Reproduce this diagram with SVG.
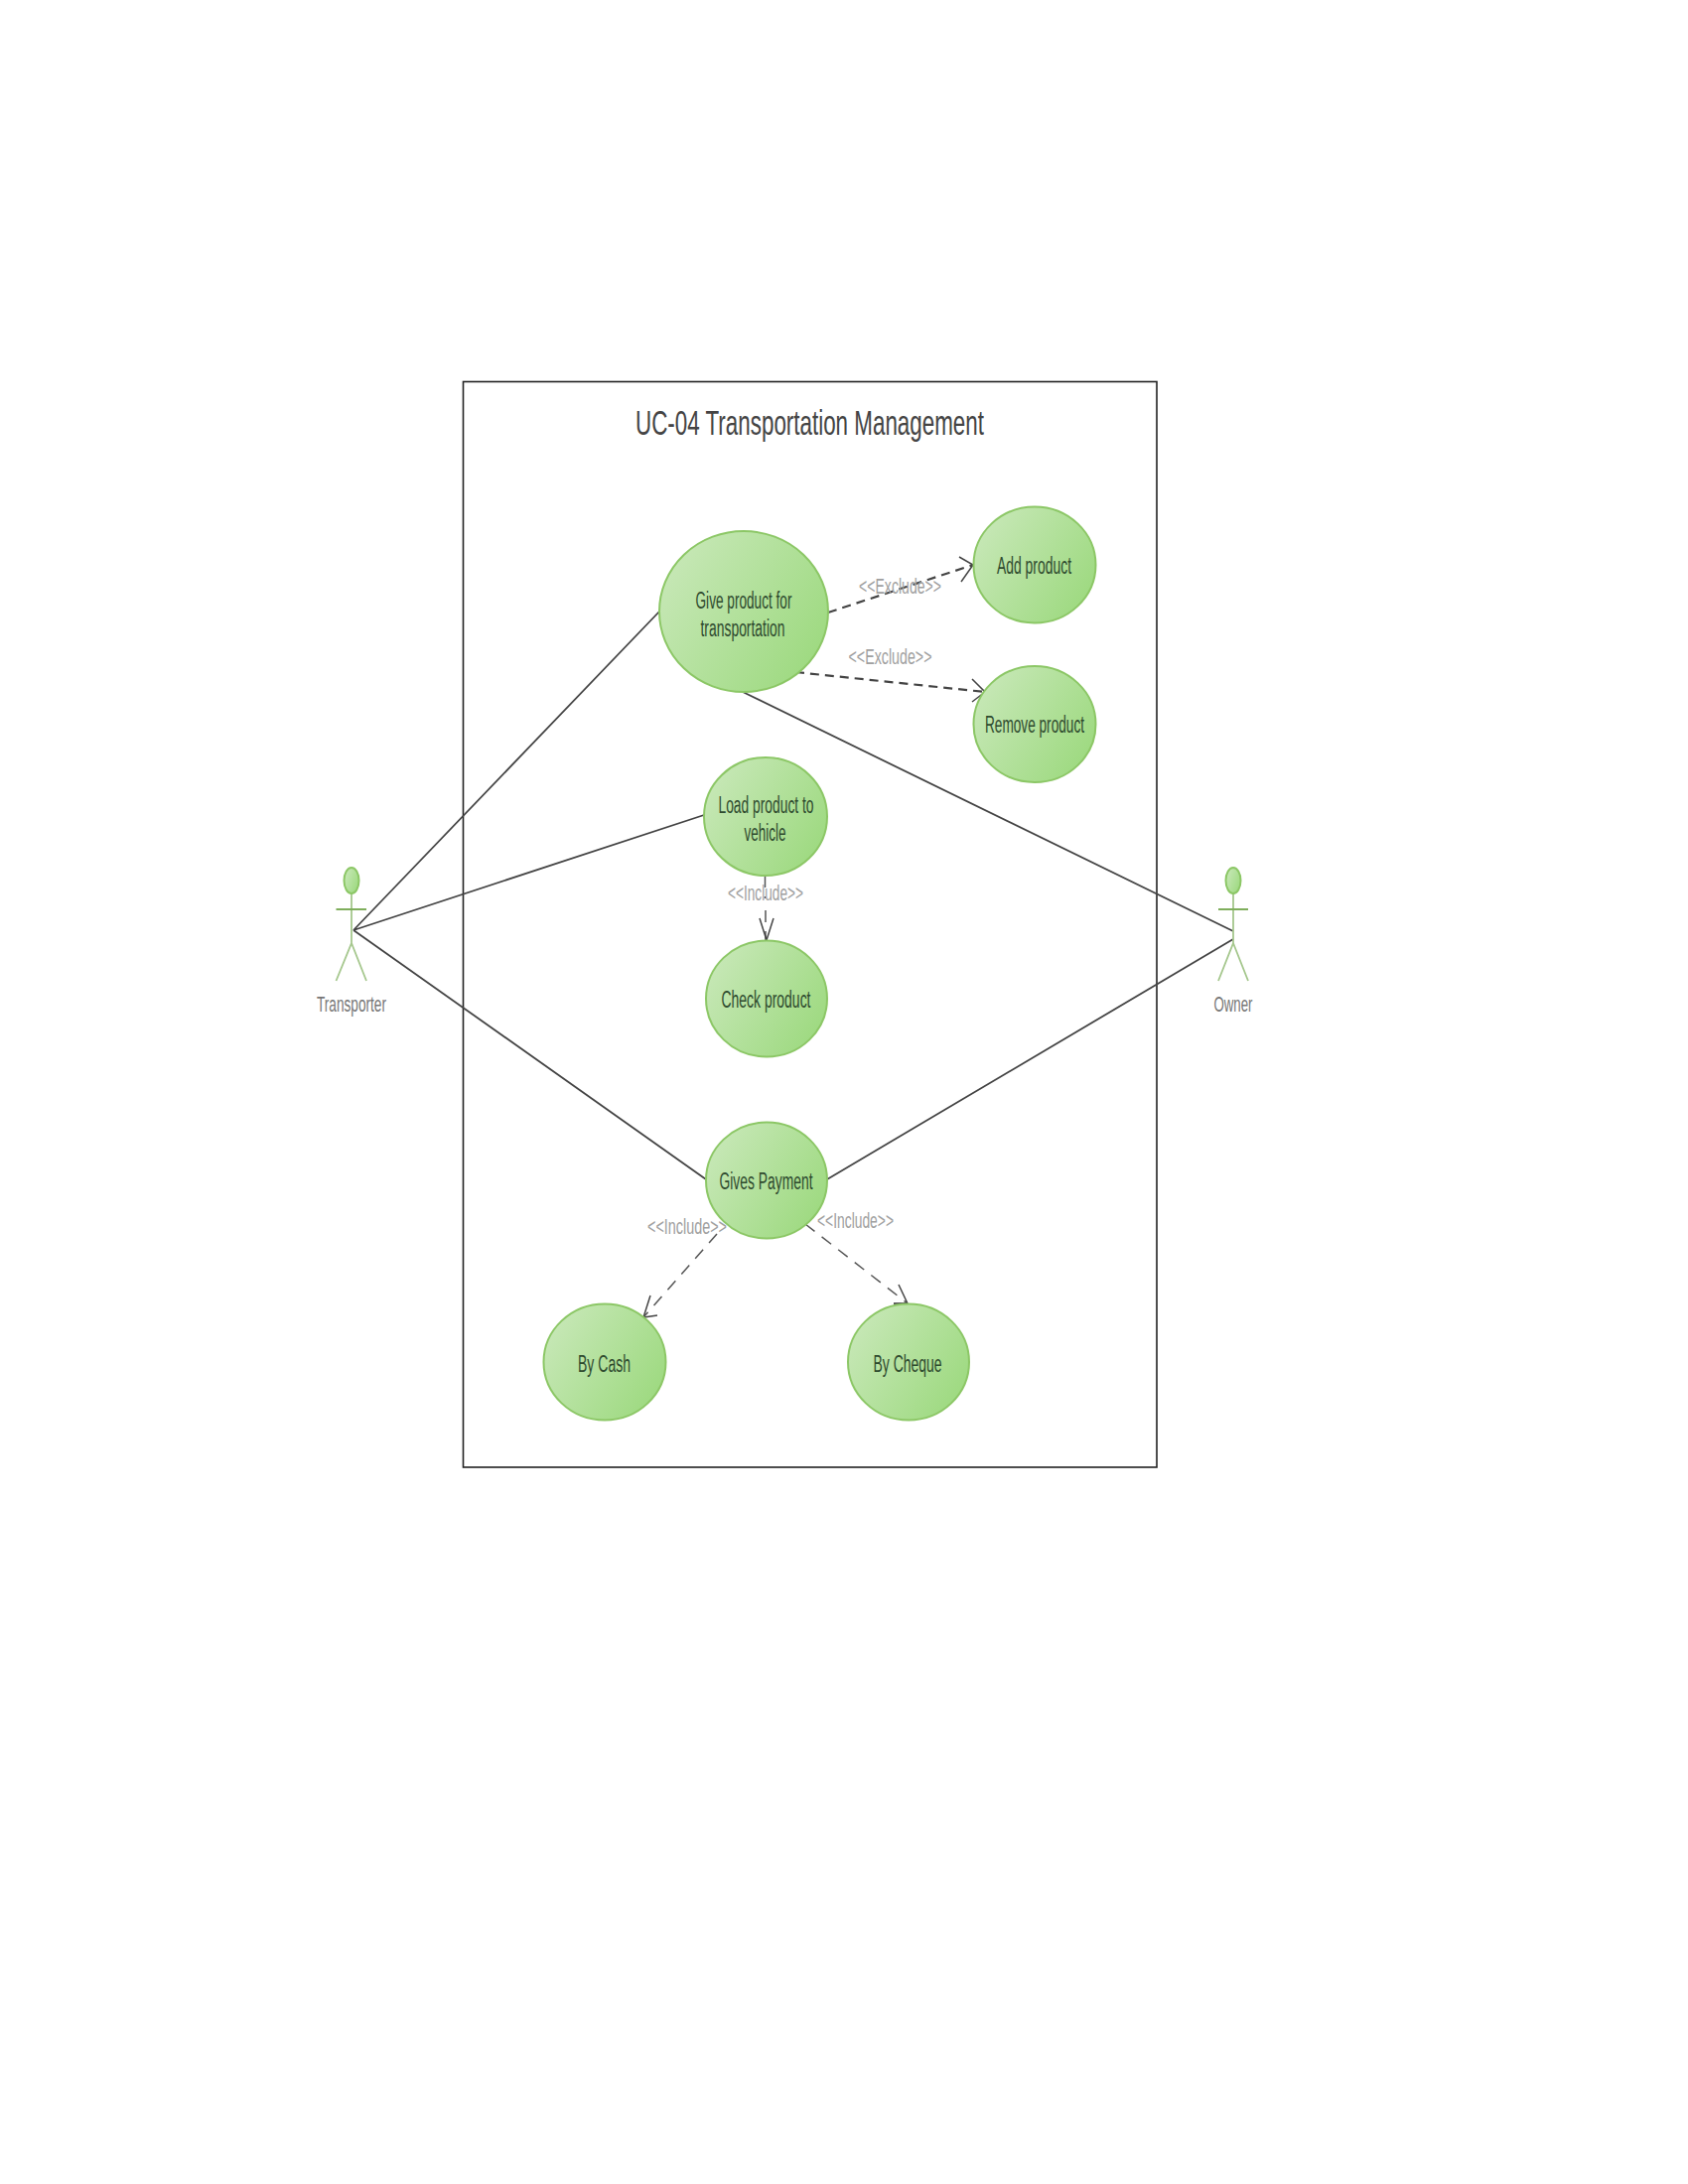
<svg xmlns="http://www.w3.org/2000/svg" width="1700" height="2200" viewBox="0 0 1700 2200">
<style>
text{font-family:"Liberation Sans",Arial,sans-serif}
.uc{fill:url(#g);stroke:#8cc766;stroke-width:2}
.n{font-size:23px;fill:#2e4a2e}
.e{font-size:22px;fill:#a0a0a0}
.a{font-size:22px;fill:#777}
.t{font-size:35px;fill:#444}
.s{fill:none;stroke:#444;stroke-width:1.8}
.d{fill:none;stroke:#444;stroke-width:2.200;stroke-dasharray:9 6}
.d2{fill:none;stroke:#555;stroke-width:1.500;stroke-dasharray:12 9}
.h{fill:none;stroke:#444;stroke-width:1.500}
.act{fill:none;stroke:#a5c78d;stroke-width:1.800}
.arm{fill:none;stroke:#7fae5c;stroke-width:2}
</style>
<defs>
<linearGradient id="g" x1="0" y1="0.2" x2="1" y2="0.8"><stop offset="0" stop-color="#c8e8b8"/><stop offset="1" stop-color="#9cd97e"/></linearGradient>
</defs>
<rect width="1700" height="2200" fill="#fff"/>
<g id="system">
<rect x="466.500" y="384.500" width="698.500" height="1093.500" fill="none" stroke="#222" stroke-width="1.600"/>
<text class="t" x="640" y="438" textLength="351" lengthAdjust="spacingAndGlyphs">UC-04 Transportation Management</text>
</g>
<g id="connectors">
<path class="s" d="M356 937L664 616M356 937L709 821M356 937L711 1188M748 697L1242 938M1242 946L833 1188"/>
<path class="d" d="M834 617L980 569M801 677L992 697"/>
<path class="d2" d="M770.500 882V905M771 917V947M722 1243L648 1327M811 1233L914 1313"/>
<path class="h" d="M966 561L980 569L968 586M979 684L992 697L979 707M765 925L772 947L779 925M655 1305L648 1327L662 1325M905 1294L914 1313"/>
<path class="s" stroke-width="2.500" d="M900 1313H914"/>
</g>
<g id="give"><ellipse class="uc" cx="749" cy="616" rx="85" ry="81"/><text class="n" x="700.500" y="613" textLength="97" lengthAdjust="spacingAndGlyphs">Give product for</text><text class="n" x="705.500" y="641" textLength="85" lengthAdjust="spacingAndGlyphs">transportation</text></g>
<g id="add"><ellipse class="uc" cx="1042" cy="569" rx="61.500" ry="58.500"/><text class="n" x="1004" y="578" textLength="75" lengthAdjust="spacingAndGlyphs">Add product</text></g>
<g id="remove"><ellipse class="uc" cx="1042" cy="729.500" rx="61.500" ry="58.500"/><text class="n" x="992" y="738" textLength="100" lengthAdjust="spacingAndGlyphs">Remove product</text></g>
<g id="load"><ellipse class="uc" cx="771" cy="822.500" rx="62" ry="59.500"/><text class="n" x="723.500" y="819" textLength="96" lengthAdjust="spacingAndGlyphs">Load product to</text><text class="n" x="749.500" y="847" textLength="42" lengthAdjust="spacingAndGlyphs">vehicle</text></g>
<g id="check"><ellipse class="uc" cx="772" cy="1006" rx="61" ry="58.500"/><text class="n" x="726.500" y="1015" textLength="90" lengthAdjust="spacingAndGlyphs">Check product</text></g>
<g id="payment"><ellipse class="uc" cx="772" cy="1189" rx="61" ry="58.500"/><text class="n" x="724.500" y="1198" textLength="94" lengthAdjust="spacingAndGlyphs">Gives Payment</text></g>
<g id="cash"><ellipse class="uc" cx="609" cy="1372" rx="61.500" ry="58.500"/><text class="n" x="582" y="1382" textLength="53" lengthAdjust="spacingAndGlyphs">By Cash</text></g>
<g id="cheque"><ellipse class="uc" cx="915" cy="1372" rx="61" ry="58.500"/><text class="n" x="879.500" y="1382" textLength="69" lengthAdjust="spacingAndGlyphs">By Cheque</text></g>
<g id="labels">
<text class="e" x="865" y="598" textLength="83" lengthAdjust="spacingAndGlyphs">&lt;&lt;Exclude&gt;&gt;</text>
<text class="e" x="854.500" y="668.500" textLength="84" lengthAdjust="spacingAndGlyphs">&lt;&lt;Exclude&gt;&gt;</text>
<text class="e" x="733" y="906.500" textLength="76" lengthAdjust="spacingAndGlyphs">&lt;&lt;Include&gt;&gt;</text>
<text class="e" x="652" y="1243" textLength="80" lengthAdjust="spacingAndGlyphs">&lt;&lt;Include&gt;&gt;</text>
<text class="e" x="823" y="1237" textLength="77" lengthAdjust="spacingAndGlyphs">&lt;&lt;Include&gt;&gt;</text>
</g>
<g id="transporter">
<path class="act" d="M354 900V950L338.500 988M354 950L369 988"/><path class="arm" d="M338.500 916H369"/>
<ellipse class="uc" cx="354" cy="887" rx="7.500" ry="13"/>
<text class="a" x="319" y="1019" textLength="70" lengthAdjust="spacingAndGlyphs">Transporter</text>
</g>
<g id="owner">
<path class="act" d="M1242 900V950L1227 988M1242 950L1257 988"/><path class="arm" d="M1227 916H1257"/>
<ellipse class="uc" cx="1242" cy="887" rx="7.500" ry="13"/>
<text class="a" x="1222.500" y="1019" textLength="39" lengthAdjust="spacingAndGlyphs">Owner</text>
</g>
</svg>
